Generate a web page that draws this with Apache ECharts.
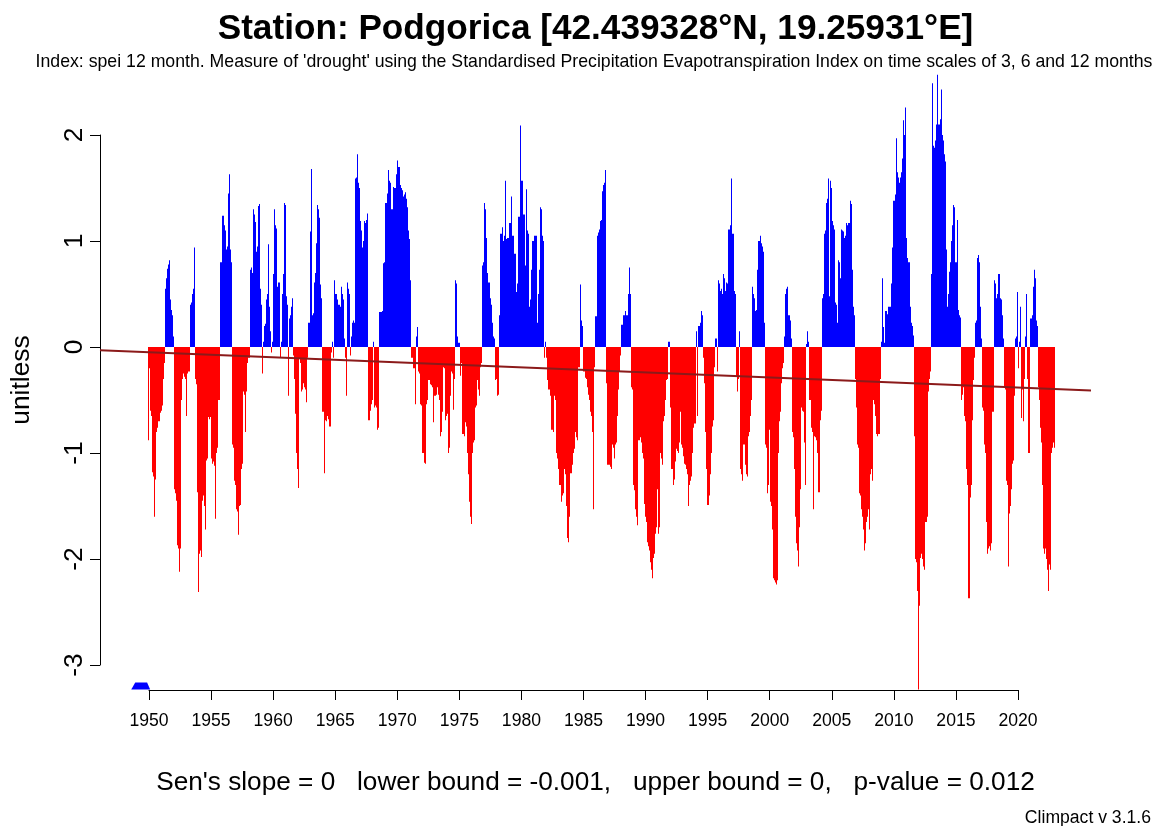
<!DOCTYPE html>
<html>
<head>
<meta charset="utf-8">
<script src="https://cdn.jsdelivr.net/npm/echarts@6/dist/echarts.min.js"></script>
<style>html,body{margin:0;padding:0;background:#fff}#c{width:1157px;height:826px}</style>
</head>
<body>
<div id="c"></div>
<script>
// ---------------- DATA ----------------
const firstYear = 1949; // monthly series starts Jan 1949 (first 11 months NA)
const spei1949to1959 = [
  null,null,null,null,null,null,null,null,null,null,null,-0.88,
  -0.2,-0.6,-0.65,-1.18,-1.22,-1.6,-1.25,-0.8,-0.76,-0.7,-0.62,-0.6,
  -0.55,-0.3,-0.15,0.55,0.65,0.74,0.78,0.82,0.45,0.35,0.3,0.1,
  -1.34,-1.38,-1.45,-1.87,-1.9,-2.12,-1.9,-0.5,-0.3,-0.25,-0.28,-0.3,
  -0.65,-0.25,-0.23,0.4,0.42,0.5,0.55,0.94,-0.3,-0.35,-1.37,-2.31,
  -1.95,-1.92,-1.98,-1.45,-1.4,-1.5,-1.72,-1.07,-1.05,-0.66,-0.68,-0.66,
  -1.05,-1.1,-1.08,-1.12,-1.62,-1.0,-0.95,-0.5,0.8,0.8,1.24,1.24,
  1.15,1.1,0.92,0.95,1.45,1.63,0.92,0.8,-0.92,-0.95,-1.26,-1.3,
  -1.53,-1.55,-1.77,-1.5,-1.49,-1.15,-1.1,-0.42,-0.45,-0.8,-0.42,-0.15,
  -0.1,0.73,0.75,0.7,1.3,1.25,1.18,0.9,0.95,1.33,1.35,0.55,
  0.4,-0.25,0.05,0.2,0.22,0.45,0.5,0.97,0.38,0.15,-0.05,0.05
];
const spei1960to1969 = [
  0.69,1.3,1.15,1.12,0.57,0.61,-0.1,0.05,0.5,0.69,1.36,1.34,
  0.48,0.4,-0.46,0.27,0.3,0.38,0.46,-0.08,-0.3,-0.63,-1.0,-1.15,
  -1.33,-0.11,-0.15,-0.42,-0.4,-0.34,-0.38,-0.4,-0.52,-0.1,0.23,1.09,
  1.68,0.3,0.32,0.61,0.7,0.98,1.34,1.3,1.22,0.59,0.46,-0.61,
  -0.61,-1.19,-0.69,-0.7,-0.65,-0.68,-0.75,-0.75,-0.05,0.05,-0.1,0.63,
  0.5,0.5,0.45,0.4,0.38,0.57,0.5,0.45,0.08,-0.1,-0.46,0.61,
  0.55,0.5,-0.08,0.1,0.23,0.25,0.23,1.59,1.6,1.82,1.55,1.5,
  1.19,1.1,0.94,1.0,1.19,1.17,1.2,1.26,-0.69,-0.6,-0.54,-0.5,
  0.05,-0.57,-0.55,-0.57,-0.78,-0.76,0.33,0.33,0.33,0.34,0.79,0.8,
  1.36,1.36,1.45,1.67,1.57,1.55,1.3,1.3,1.51,1.5,1.5,1.63
];
const spei1970to1979 = [
  1.76,1.7,1.53,1.5,1.48,1.42,1.44,1.46,1.4,1.32,1.1,1.02,
  0.63,-0.1,-0.1,-0.2,-0.2,-0.54,0.1,0.19,-0.23,-0.25,-0.54,-0.55,
  -1.0,-1.0,-1.09,-1.1,-0.54,-0.5,-0.31,-0.35,-0.36,-0.38,-0.71,-0.46,
  -0.46,-0.45,-0.38,-0.45,-0.5,-0.84,-0.8,-0.61,-0.19,-0.2,-0.69,-0.65,
  -0.63,-1.0,-0.95,-0.46,-0.23,-0.25,-0.59,-0.3,0.63,0.6,0.1,0.04,
  -0.27,-0.15,-0.82,-0.82,-0.84,-0.71,-0.75,-1.0,-1.2,-1.46,-1.6,-1.67,
  -1.0,-0.9,-0.88,-0.57,-0.55,-0.31,-0.4,-0.46,-0.19,-0.15,0.77,0.8,
  1.36,1.3,1.03,0.7,0.61,0.46,0.4,0.23,0.1,0.08,-0.31,-0.3,
  -0.46,-0.45,0.3,1.07,1.07,1.13,1.0,1.05,1.57,1.02,1.03,1.03,
  1.17,1.17,1.42,1.05,1.05,0.88,0.88,0.52,0.6,1.23,2.09,1.57
];
const spei1980to1989 = [
  1.57,1.25,1.25,0.77,1.49,1.1,1.07,0.38,0.45,0.73,1.0,1.0,
  1.05,1.05,1.05,0.23,0.5,0.73,1.32,1.3,1.05,1.0,-0.1,0.05,
  -0.1,-0.31,-0.4,-0.46,-0.78,-0.78,-0.8,-0.46,-0.5,-1.0,-1.05,-1.15,
  -1.3,-1.3,-1.46,-1.4,-1.38,-1.15,-1.2,-1.5,-1.8,-1.84,-1.6,-1.19,
  -1.19,-1.11,-1.0,-0.96,-0.8,-0.85,-0.88,-0.19,0.59,0.25,0.2,-0.23,
  -0.23,-0.29,-0.3,-0.38,-0.45,-0.5,-0.61,-0.65,-0.8,-1.53,-0.19,0.29,
  0.29,1.05,1.08,1.11,1.19,1.2,1.47,1.53,1.55,1.67,-0.34,-1.11,
  -1.11,-1.13,-1.15,-0.92,-0.95,-1.05,-0.92,-0.9,-0.65,-0.4,-0.23,-0.08,
  0.21,0.21,0.3,0.3,0.34,0.3,0.3,0.5,0.75,0.5,-0.38,-0.4,
  -1.3,-1.35,-1.53,-1.6,-1.68,-0.88,-0.85,-0.9,-1.0,-1.05,-1.48,-1.6
];
const spei1990to1999 = [
  -1.65,-1.84,-1.88,-1.92,-2.03,-2.1,-2.18,-1.99,-1.95,-1.76,-1.7,-1.34,
  -1.76,-1.7,-1.0,-1.05,-1.11,-0.7,-0.65,-0.5,-0.31,-0.3,0.05,-0.57,
  -1.15,-1.15,-1.3,-1.25,-1.08,-0.96,-0.98,-1.0,-0.9,-0.61,-0.92,-0.95,
  -1.03,-1.1,-1.11,-1.15,-1.2,-1.5,-1.3,-1.26,-1.22,-1.0,-0.76,-0.72,
  -0.72,0.15,-0.65,0.2,0.23,0.34,0.3,-0.1,-0.34,-0.8,-1.15,-1.49,
  -1.49,-1.4,-1.2,-1.0,-0.75,-0.69,-0.19,0.08,0.08,-0.23,0.63,0.6,
  0.53,0.55,0.5,0.69,0.65,0.53,0.61,0.6,1.11,1.15,1.59,1.07,
  1.07,0.53,0.5,-0.27,-0.42,-0.3,0.15,-1.15,-1.2,-1.26,-0.92,-0.92,
  -1.11,-1.2,-1.22,-0.84,-0.8,-0.65,-0.5,0.57,0.5,0.46,0.34,0.35,
  0.73,1.0,1.05,0.98,0.95,0.9,0.23,-0.92,-0.95,-1.38,-1.3,-0.78
];
const spei2000to2009 = [
  -1.46,-1.5,-1.72,-2.18,-2.2,-2.22,-2.24,-2.2,-1.0,-0.7,-0.61,-0.34,
  -0.2,-0.15,0.1,0.5,0.55,0.57,0.3,0.25,0.08,-0.8,-0.85,-1.15,
  -1.6,-1.85,-1.92,-2.07,-1.7,-1.34,-0.57,-0.6,-0.61,-0.9,-1.3,0.03,
  0.15,0.05,-0.5,-0.5,-0.76,-0.8,-1.53,-0.84,-0.85,-0.88,-1.0,-1.37,
  -0.69,-0.6,0.46,0.5,1.07,1.1,1.36,1.4,1.59,0.48,1.57,1.5,
  1.19,1.15,1.11,0.42,0.4,0.23,0.82,0.8,0.65,1.11,1.1,1.09,
  1.03,1.05,1.17,1.15,1.17,1.38,1.35,0.73,0.38,0.3,-0.3,-0.57,
  -0.92,-0.95,-1.38,-1.4,-1.53,-1.6,-1.72,-1.92,-1.85,-1.65,-1.6,-1.53,
  -1.72,-1.2,-1.15,-1.26,-0.5,-0.54,-0.65,-0.82,-0.84,-0.82,-0.3,0.05,
  0.65,0.19,0.04,0.34,0.34,0.31,0.38,0.38,0.38,0.6,0.94,1.38
];
const spei2010to2022 = [
  1.38,1.44,1.97,1.65,1.6,1.55,1.6,1.65,1.78,2.14,2.0,2.26,
  1.03,0.84,0.8,0.38,0.23,0.2,0.11,-0.84,-2.0,-2.03,-2.3,-3.23,
  -2.44,-1.99,-1.95,-2.0,-2.07,-2.1,-1.65,-1.65,-1.6,-0.42,-0.3,-0.23,
  0.69,2.49,1.9,1.88,1.95,2.1,2.57,2.1,2.15,2.43,2.0,1.95,
  1.82,1.75,0.92,0.38,0.5,0.71,0.8,1.0,1.15,1.34,1.32,0.8,
  0.8,1.2,0.35,0.3,0.28,-0.5,-0.45,-0.38,-0.65,-0.7,-1.15,-1.3,
  -2.37,-1.42,-1.3,-0.69,-0.31,-0.1,0.23,0.25,0.84,0.87,0.8,0.38,
  0.08,-0.57,-0.6,-0.92,-1.0,-1.65,-1.95,-1.9,-1.88,-1.92,-1.85,-0.61,
  -0.61,0.63,0.6,0.46,0.5,0.69,0.46,0.45,0.3,0.08,-0.38,-0.4,
  -1.26,-1.3,-2.07,-1.57,-1.5,-1.34,-1.1,-1.07,-0.46,0.08,0.1,0.52,
  -0.2,0.05,0.38,-0.67,-0.4,-0.7,-0.3,0.1,0.5,-0.3,-1.0,0.27,
  0.27,0.3,0.57,0.73,0.65,0.25,0.2,-0.38,-0.5,-0.76,-0.9,-1.3,
  -1.9,-1.95,-1.9,-2.0,-2.1,-2.3,-2.05,-2.1,-1.0,-0.95,-0.9,-0.95
];
const xTickLabels = [1950,1955,1960,1965,1970,1975,1980,1985,1990,1995,2000,2005,2010,2015,2020];
const yTickLabels = [-3,-2,-1,0,1,2];
const trendSlopePerYear = -0.00475;   // fitted trend line
const trendValueAt1950 = -0.049;
const titleText = "Station: Podgorica [42.439328\u00B0N, 19.25931\u00B0E]";
const subtitleText = "Index: spei 12 month. Measure of 'drought' using the Standardised Precipitation Evapotranspiration Index on time scales of 3, 6 and 12 months";
const statsText = "Sen's slope = 0   lower bound = -0.001,   upper bound = 0,   p-value = 0.012";
const footerText = "Climpact v 3.1.6";
const yName = "unitless";

// ---------------- BUILD ----------------
const values = [].concat(spei1949to1959, spei1960to1969, spei1970to1979, spei1980to1989,
                         spei1990to1999, spei2000to2009, spei2010to2022);
const points = [];
let naEnd = null;
values.forEach((v, i) => {
  const t = firstYear + i / 12;
  if (v === null) { naEnd = firstYear + (i + 1) / 12; return; }
  points.push([t, v]);
});
const X_MIN = 1946.04, X_MAX = 2025.87, Y_MIN = -3.235, Y_MAX = 2.85;
const trend = x => trendValueAt1950 + trendSlopePerYear * (x - 1950);
const FONT = "'Liberation Sans', Arial, Helvetica, sans-serif";

const chart = echarts.init(document.getElementById('c'), null, {renderer: 'canvas'});
chart.setOption({
  animation: false,
  backgroundColor: '#ffffff',
  grid: [
    {left: 100, right: 66, top: 45, bottom: 136, containLabel: false},
    {left: 149, right: 139, top: 135, bottom: 161, containLabel: false}
  ],
  xAxis: [
    {gridIndex: 0, type: 'value', min: X_MIN, max: X_MAX, show: false},
    {gridIndex: 1, type: 'value', min: 1950, max: 2020, interval: 5, position: 'bottom', offset: 25,
     axisLine: {show: true, onZero: false, lineStyle: {color: '#000', width: 1}},
     axisTick: {show: true, length: 10, inside: false, lineStyle: {color: '#000'}, customValues: xTickLabels},
     axisLabel: {show: true, margin: 22, color: '#000', fontSize: 17.6, fontFamily: FONT,
                 customValues: xTickLabels, formatter: v => String(v)},
     splitLine: {show: false}}
  ],
  yAxis: [
    {gridIndex: 0, type: 'value', min: Y_MIN, max: Y_MAX, show: false},
    {gridIndex: 1, type: 'value', min: -3, max: 2, interval: 1, position: 'left', offset: 49,
     axisLine: {show: true, onZero: false, lineStyle: {color: '#000', width: 1}},
     axisTick: {show: true, length: 10, lineStyle: {color: '#000'}, customValues: yTickLabels},
     axisLabel: {show: true, rotate: 90, margin: 12, color: '#000', fontSize: 26.4, fontFamily: FONT,
                 customValues: yTickLabels, formatter: v => String(v)},
     splitLine: {show: false}}
  ],
  series: [
    {
      type: 'custom', xAxisIndex: 0, yAxisIndex: 0, clip: true, z: 2,
      data: points,
      renderItem: function (params, api) {
        const x = api.value(0), v = api.value(1);
        const a = api.coord([x, 0]);
        const b = api.coord([x + 1 / 12, v]);
        const x0 = Math.round(a[0]);
        const x1 = Math.max(Math.round(b[0]), x0 + 1);
        return {
          type: 'rect',
          shape: {x: x0, y: Math.min(a[1], b[1]), width: x1 - x0, height: Math.abs(b[1] - a[1])},
          style: {fill: v >= 0 ? '#0000FF' : '#FF0000'}
        };
      }
    },
    {
      // marker drawn by the original under the NA start period
      type: 'custom', xAxisIndex: 0, yAxisIndex: 0, clip: false, z: 3,
      data: [[firstYear, naEnd]],
      renderItem: function (params, api) {
        const p0 = api.coord([api.value(0), Y_MIN]);
        const p1 = api.coord([api.value(1), Y_MIN]);
        const yb = p0[1] - 0.5, yt = yb - 7;
        return {
          type: 'polygon',
          shape: {points: [[p0[0] - 5.5, yb], [p0[0] - 1.5, yt], [p1[0] - 1, yt], [p1[0] + 2, yb]]},
          style: {fill: '#0000FF'}
        };
      }
    },
    {
      type: 'line', xAxisIndex: 0, yAxisIndex: 0, z: 5, symbol: 'none', silent: true,
      data: [[X_MIN, trend(X_MIN)], [X_MAX, trend(X_MAX)]],
      lineStyle: {color: '#8B1A1A', width: 2}
    }
  ],
  graphic: [
    {type: 'text', x: 595.5, y: 29, style: {text: titleText, font: "bold 35.2px " + FONT, fill: '#000', align: 'center', verticalAlign: 'middle'}},
    {type: 'text', x: 594, y: 62, style: {text: subtitleText, font: "17.7px " + FONT, fill: '#000', align: 'center', verticalAlign: 'middle'}},
    {type: 'text', x: 22, y: 380, rotation: Math.PI / 2, style: {text: yName, font: "26.4px " + FONT, fill: '#000', align: 'center', verticalAlign: 'middle'}},
    {type: 'text', x: 595.5, y: 783, style: {text: statsText, font: "26.2px " + FONT, fill: '#000', align: 'center', verticalAlign: 'middle'}},
    {type: 'text', x: 1151, y: 818, style: {text: footerText, font: "17.6px " + FONT, fill: '#000', align: 'right', verticalAlign: 'middle'}}
  ]
});
</script>
</body>
</html>
